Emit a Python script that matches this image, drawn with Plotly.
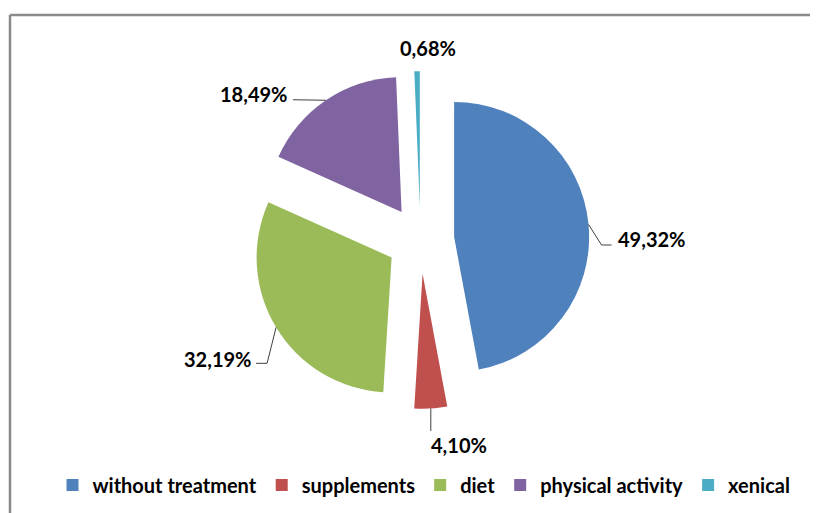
import math
import plotly.graph_objects as go

# ---------------- data ----------------
categories = ["without treatment", "supplements", "diet", "physical activity", "xenical"]
values = [49.32, 4.10, 32.19, 18.49, 0.68]

# ---------------- style ----------------
colors = ["#4F81BD", "#C0504D", "#9BBB59", "#8064A2", "#4BACC6"]
PAGE_OFF = 8               # default body margin of the html page
W, H = 818 - PAGE_OFF, 513 - PAGE_OFF
CX, CY = 420.5, 240.0      # pie centre (screen px)
R = 135.0                  # pie radius (px)
PULL = 0.25                # explosion
FONT = "Lato"
FS = 20
LEG_FS = 20
# leader line points relative to slice outer mid-point (px)
LEADERS = [[(13, 20.5), (23, 20.5)], [(0, 22.6)], [(-9, 36), (-20, 36)], [(-33, -0.5)], []]
# label offset relative to last leader point (px) and horizontal anchor
LABEL_OFF = [(4, -5.5, "left"), (-2, 14, "left"), (-3, -4, "right"), (-4, -6, "right"), (11, -23.5, "center")]


def px(x, y):
    """screen pixel -> paper coordinates"""
    return (x - PAGE_OFF) / W, 1 - (y - PAGE_OFF) / H


total = sum(values)
half = R * (1 + PULL)
x0, y0 = px(CX - 200, CY + half)
x1, y1 = px(CX + 200, CY - half)

fig = go.Figure(go.Pie(
    labels=categories,
    values=values,
    sort=False,
    direction="clockwise",
    rotation=0,
    pull=[PULL] * len(values),
    marker=dict(colors=colors, line=dict(width=0)),
    textinfo="none",
    domain=dict(x=[x0, x1], y=[y0, y1]),
    showlegend=True,
))

shapes = []
annotations = []
cum = 0.0
for i, v in enumerate(values):
    frac = v / total
    mid = 360 * (cum + frac / 2)
    cum += frac
    th = math.radians(mid)
    dx, dy = math.sin(th), -math.cos(th)
    ax, ay = CX + half * dx, CY + half * dy
    pts = [(ax, ay)] + [(ax + ox, ay + oy) for ox, oy in LEADERS[i]]
    if len(pts) > 1:
        path = "M " + " L ".join(f"{px(x, y)[0]:.5f},{px(x, y)[1]:.5f}" for x, y in pts)
        shapes.append(dict(type="path", xref="paper", yref="paper", path=path,
                           line=dict(color="#404040", width=1)))
    lx, ly = pts[-1]
    ox, oy, anc = LABEL_OFF[i]
    tx, ty = px(lx + ox, ly + oy)
    label = f"{v:.2f}".replace(".", ",") + "%"
    annotations.append(dict(x=tx, y=ty, xref="paper", yref="paper", text=label,
                            showarrow=False, xanchor=anc, yanchor="middle",
                            font=dict(family=FONT, size=FS, color="#000000", weight="bold")))

# chart border (left and top visible)
bx, by = px(10, 15)
shapes.append(dict(type="line", xref="paper", yref="paper", x0=bx, x1=bx, y0=by, y1=0,
                   line=dict(color="#8a8a8a", width=2.5)))
shapes.append(dict(type="line", xref="paper", yref="paper", x0=bx, x1=1, y0=by, y1=by,
                   line=dict(color="#8a8a8a", width=2.5)))

lx_, ly_ = px(424, 485)
fig.update_layout(
    width=W, height=H,
    margin=dict(l=0, r=0, t=0, b=0),
    paper_bgcolor="white", plot_bgcolor="white",
    shapes=shapes, annotations=annotations,
    legend=dict(orientation="h", x=lx_, xanchor="center", y=ly_, yanchor="middle",
                font=dict(family=FONT, size=LEG_FS, color="#000000", weight="bold"),
                traceorder="normal", itemwidth=30, itemclick=False),
)

fig.write_html("out.html")
